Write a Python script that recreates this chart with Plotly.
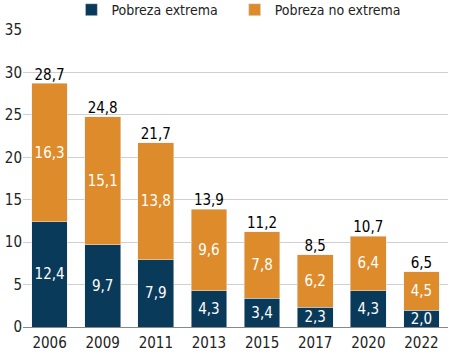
import plotly.graph_objects as go

years = ["2006", "2009", "2011", "2013", "2015", "2017", "2020", "2022"]
extrema = [12.4, 9.7, 7.9, 4.3, 3.4, 2.3, 4.3, 2.0]
no_extrema = [16.3, 15.1, 13.8, 9.6, 7.8, 6.2, 6.4, 4.5]
totales = [28.7, 24.8, 21.7, 13.9, 11.2, 8.5, 10.7, 6.5]

NAVY = "#0a3a5a"
ORANGE = "#de8c2b"
FONT = "DejaVu Sans Condensed"

def fmt(v):
    return f"{v:.1f}".replace(".", ",")

fig = go.Figure()
fig.add_trace(go.Bar(
    x=years, y=extrema, name="Pobreza extrema" + "\u00a0" * 3, marker_color=NAVY,
    text=[fmt(v) for v in extrema], textposition="inside", insidetextanchor="middle",
    insidetextfont=dict(color="white", size=15, family=FONT), textangle=0,
    constraintext="none",
))
fig.add_trace(go.Bar(
    x=years, y=no_extrema, name="Pobreza no extrema", marker_color=ORANGE,
    text=[fmt(v) for v in no_extrema], textposition="inside", insidetextanchor="middle",
    insidetextfont=dict(color="white", size=15, family=FONT), textangle=0,
    constraintext="none",
))
fig.add_trace(go.Scatter(
    x=years, y=totales, mode="text", text=[fmt(v) for v in totales],
    textposition="top center", textfont=dict(color="black", size=15, family=FONT),
    showlegend=False, hoverinfo="skip", cliponaxis=False,
))

fig.update_layout(
    barmode="stack", bargap=0.325,
    width=449, height=354,
    margin=dict(l=23, r=1, t=30, b=27, autoexpand=False),
    paper_bgcolor="white", plot_bgcolor="white",
    font=dict(family=FONT, size=15, color="#222222"),
    legend=dict(orientation="h", x=0.508, xanchor="center",
                y=1.067, yanchor="middle",
                font=dict(size=14, color="#222222"), itemwidth=30,
                traceorder="normal"),
    showlegend=True,
)
fig.update_yaxes(range=[0, 35], dtick=5, showgrid=True, gridcolor="#d0d0d0", gridwidth=1,
                 zeroline=True, zerolinecolor="#888888", zerolinewidth=1,
                 ticks="", tickfont=dict(size=15, color="#222222"))
fig.update_xaxes(showgrid=False, ticks="", tickfont=dict(size=15, color="#222222"),
                 ticklabelstandoff=5)

fig.write_html("out.html")
